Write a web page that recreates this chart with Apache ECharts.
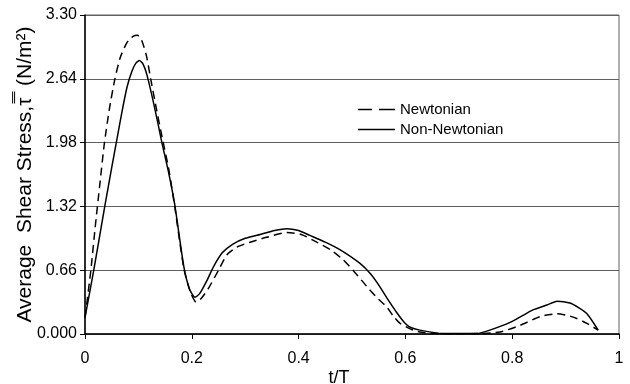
<!DOCTYPE html>
<html>
<head>
<meta charset="utf-8">
<script src="https://cdn.jsdelivr.net/npm/echarts@6/dist/echarts.min.js"></script>
<style>
  html, body { margin: 0; padding: 0; background: #fff; }
  #chart { width: 630px; height: 384px; }
</style>
</head>
<body>
<div id="chart"></div>
<script>
// t/T and average shear stress
var tNewt = [0, 0.011, 0.019, 0.028, 0.036, 0.046, 0.056, 0.066, 0.078, 0.09, 0.0985, 0.106, 0.115, 0.123, 0.133, 0.145, 0.157, 0.168, 0.185, 0.197, 0.208, 0.218, 0.232, 0.25, 0.266, 0.285, 0.309, 0.34, 0.378, 0.405, 0.434, 0.46, 0.483, 0.505, 0.528, 0.546, 0.565, 0.578, 0.59, 0.61, 0.627, 0.66, 0.7, 0.74, 0.777, 0.815, 0.852, 0.884, 0.905, 0.921, 0.94, 0.961];
var newtonian = [0.17, 0.66, 1.10, 1.56, 1.96, 2.34, 2.64, 2.86, 3.01, 3.08, 3.09, 3.04, 2.88, 2.64, 2.35, 2.02, 1.70, 1.32, 0.68, 0.44, 0.33, 0.37, 0.48, 0.66, 0.82, 0.90, 0.95, 1.0, 1.05, 1.03, 0.95, 0.87, 0.77, 0.64, 0.49, 0.38, 0.28, 0.18, 0.11, 0.05, 0.02, 0.005, 0, 0.005, 0.02, 0.09, 0.18, 0.21, 0.19, 0.16, 0.11, 0.04];

var tNon = [0, 0.017, 0.037, 0.05, 0.06, 0.07, 0.079, 0.088, 0.095, 0.102, 0.109, 0.116, 0.13, 0.144, 0.157, 0.168, 0.185, 0.196, 0.206, 0.215, 0.228, 0.241, 0.257, 0.277, 0.3, 0.328, 0.355, 0.378, 0.4, 0.421, 0.45, 0.478, 0.515, 0.535, 0.552, 0.568, 0.584, 0.598, 0.609, 0.627, 0.67, 0.734, 0.758, 0.796, 0.839, 0.865, 0.884, 0.908, 0.925, 0.94, 0.961];
var nonNewtonian = [0.17, 0.68, 1.32, 1.72, 2.02, 2.32, 2.56, 2.72, 2.80, 2.83, 2.79, 2.68, 2.35, 1.98, 1.66, 1.34, 0.70, 0.46, 0.38, 0.42, 0.55, 0.70, 0.84, 0.93, 0.99, 1.03, 1.07, 1.09, 1.07, 1.02, 0.95, 0.87, 0.73, 0.62, 0.49, 0.35, 0.22, 0.12, 0.07, 0.04, 0.005, 0.005, 0.04, 0.12, 0.25, 0.30, 0.34, 0.32, 0.27, 0.21, 0.04];

function pairs(xs, ys) {
  return xs.map(function (x, i) { return [x, ys[i]]; });
}

var myChart = echarts.init(document.getElementById("chart"));

myChart.setOption({
  animation: false,
  textStyle: { fontFamily: "Liberation Sans, Arial, sans-serif", color: "#000" },
  grid: {
    left: 85,
    right: 11,
    top: 15,
    bottom: 50,
    outerBoundsMode: "none",
    show: true,
    borderColor: "#606060",
    borderWidth: 1,
  },
  legend: {
    orient: "vertical",
    left: 358,
    top: 102,
    padding: 0,
    itemWidth: 37,
    itemHeight: 14,
    itemGap: 5,
    textStyle: { fontSize: 15, color: "#000" },
    data: [
      { name: "Newtonian", icon: "path://M0,0h14v1.6h-14zM21,0h16v1.6h-16z" },
      { name: "Non-Newtonian", icon: "path://M0,0h37v1.6h-37z" },
    ],
  },
  xAxis: {
    type: "value",
    min: 0,
    max: 1,
    interval: 0.2,
    name: "t/T",
    nameLocation: "middle",
    nameGap: 35,
    nameMoveOverlap: false,
    nameTextStyle: { fontSize: 18, color: "#000", padding: [0, 26, 0, 0] },
    axisLine: { lineStyle: { color: "#000", width: 1.5 } },
    axisTick: { show: true, length: 5, lineStyle: { color: "#000" } },
    axisLabel: { fontSize: 16, color: "#000", margin: 17 },
    splitLine: { show: false },
  },
  yAxis: {
    type: "value",
    min: 0,
    max: 3.3,
    interval: 0.66,
    name: "Average  Shear Stress,\u03C4\u033F  (N/m\u00B2)",
    nameLocation: "middle",
    nameGap: 49,
    nameMoveOverlap: false,
    nameTextStyle: { fontSize: 21, color: "#000" },
    axisLine: { show: true, lineStyle: { color: "#000", width: 1.5 } },
    axisTick: { show: true, length: 5, lineStyle: { color: "#000" } },
    axisLabel: {
      fontSize: 16,
      color: "#000",
      margin: 8,
      formatter: function (v) {
        return v === 0 ? "0.000" : v.toFixed(2);
      },
    },
    splitLine: { show: true, lineStyle: { color: "#606060", width: 1 } },
  },
  series: [
    {
      name: "Newtonian",
      type: "line",
      data: pairs(tNewt, newtonian),
      showSymbol: false,
      symbol: "none",
      smooth: 0.2,
      lineStyle: { color: "#000", width: 1.5, type: [8, 5] },
      itemStyle: { color: "#000" },
    },
    {
      name: "Non-Newtonian",
      type: "line",
      data: pairs(tNon, nonNewtonian),
      showSymbol: false,
      symbol: "none",
      smooth: 0.2,
      lineStyle: { color: "#000", width: 1.5 },
      itemStyle: { color: "#000" },
    },
  ],
});
</script>
</body>
</html>
